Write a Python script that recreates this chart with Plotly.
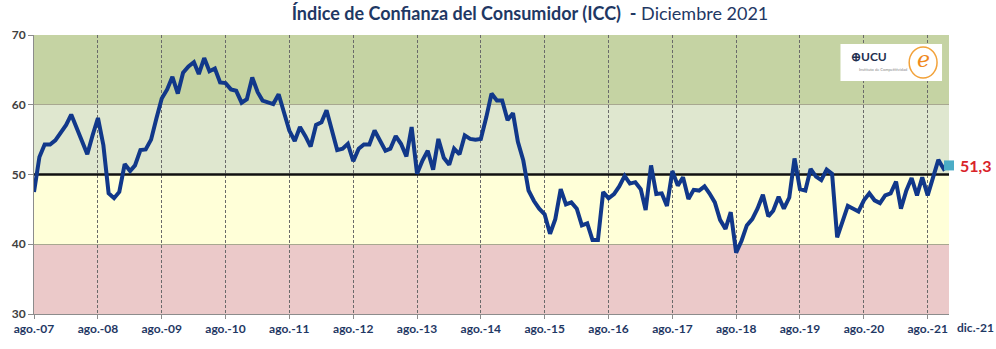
import pandas as pd
import plotly.graph_objects as go

# Monthly ICC values, Aug-2007 .. Dec-2021
months = pd.date_range("2007-08-01", "2021-12-01", freq="MS")
icc_values = [
    47.5, 52.5, 54.3, 54.3, 54.9, 56.1, 57.1, 58.6, 56.6, 54.7, 52.9, 55.6,   # ago-07..jul-08
    58.1, 54.2, 47.3, 46.6, 47.5, 51.5, 50.5, 51.3, 53.5, 53.6, 55.0, 58.0,   # ago-08..jul-09
    60.9, 62.2, 64.0, 61.6, 64.6, 65.5, 66.1, 64.4, 66.7, 64.8, 65.2, 63.2,   # ago-09..jul-10
    63.1, 62.2, 62.0, 60.3, 60.8, 63.9, 61.8, 60.6, 60.3, 60.1, 61.5, 59.0,   # ago-10..jul-11
    56.3, 54.8, 56.8, 55.5, 54.0, 57.1, 57.5, 59.2, 56.1, 53.5, 53.7, 54.4,   # ago-11..jul-12
    51.9, 53.7, 54.3, 54.3, 56.3, 54.9, 53.4, 53.7, 55.5, 54.4, 52.6, 56.8,   # ago-12..jul-13
    50.1, 52.0, 53.4, 50.7, 55.1, 52.4, 51.4, 53.7, 52.9, 55.6, 55.1, 55.0,   # ago-13..jul-14
    55.1, 58.2, 61.6, 60.6, 60.6, 57.8, 58.8, 54.7, 52.0, 47.7, 46.2, 45.1,   # ago-14..jul-15
    44.3, 41.5, 43.6, 47.9, 45.7, 46.0, 45.1, 42.7, 43.0, 40.6, 40.6, 47.5,   # ago-15..jul-16
    46.6, 47.2, 48.3, 49.8, 48.7, 48.9, 47.9, 44.9, 51.3, 47.2, 47.3, 45.5,   # ago-16..jul-17
    50.5, 48.4, 49.6, 46.5, 47.8, 47.7, 48.3, 47.3, 46.0, 43.5, 42.2, 44.6,   # ago-17..jul-18
    38.8, 40.5, 42.7, 43.6, 45.1, 47.1, 44.0, 44.8, 46.8, 45.1, 46.7, 52.3,   # ago-18..jul-19
    47.9, 47.7, 50.8, 49.7, 49.2, 50.7, 50.1, 41.0, 43.1, 45.5, 45.1, 44.7,   # ago-19..jul-20
    46.3, 47.3, 46.3, 45.9, 47.0, 47.3, 49.0, 45.1, 47.7, 49.5, 47.0, 49.6,   # ago-20..jul-21
    47.0, 49.6, 52.1, 50.8, 51.3,                                             # ago-21..dic-21
]
tick_dates = pd.date_range("2007-08-01", "2021-08-01", freq="12MS")
tick_labels = ["ago.-07", "ago.-08", "ago.-09", "ago.-10", "ago.-11", "ago.-12", "ago.-13",
               "ago.-14", "ago.-15", "ago.-16", "ago.-17", "ago.-18", "ago.-19", "ago.-20",
               "ago.-21"]
last_label = "dic.-21"
last_value_text = "51,3"
bands = [(30, 40, "#EBC9C9"), (40, 50, "#FFFFD8"), (50, 60, "#DFE7CF"), (60, 70, "#C5D3A3")]
threshold = 50

fig = go.Figure()

for y0, y1, col in bands:
    fig.add_shape(type="rect", xref="paper", yref="y", x0=0, x1=1, y0=y0, y1=y1,
                  fillcolor=col, line_width=0, layer="below")

# neutral line at 50
fig.add_trace(go.Scatter(x=[months[0], months[-1]], y=[threshold, threshold], mode="lines",
                         line=dict(color="#111111", width=2.5), hoverinfo="skip",
                         showlegend=False, cliponaxis=False))

fig.add_trace(go.Scatter(x=months, y=icc_values, mode="lines",
                         line=dict(color="#11388A", width=4), showlegend=False))

fig.add_trace(go.Scatter(x=[months[-1]], y=[icc_values[-1]], mode="markers",
                         marker=dict(symbol="square", size=10, color="#4BACC6"),
                         showlegend=False, cliponaxis=False))

fig.update_layout(
    width=996, height=349,
    margin=dict(l=30, r=47, t=35, b=35),
    paper_bgcolor="white", plot_bgcolor="rgba(0,0,0,0)",
    font=dict(family="Lato, sans-serif"),
    title=dict(text="<b>Índice de Confianza del Consumidor (ICC)  -</b> Diciembre 2021",
               x=530 / 996, xref="container", xanchor="center",
               y=1 - 14 / 349, yref="container", yanchor="middle",
               font=dict(size=18, color="#1F3864", family="Lato, sans-serif")),
    xaxis=dict(range=[months[0], months[-1]], tickmode="array", tickvals=tick_dates,
               ticktext=tick_labels, showgrid=True, gridcolor="#6A6A6A", griddash="3px,2px",
               gridwidth=0.8, showline=True, linecolor="#8C8C8C", ticks="outside",
               ticklen=4, tickcolor="#8C8C8C",
               tickfont=dict(size=12, color="#1F3864", family="Lato, sans-serif", weight="bold"),
               zeroline=False),
    yaxis=dict(range=[30, 70], tickvals=[30, 40, 50, 60, 70], showgrid=True,
               gridcolor="#A8A890", gridwidth=1, showline=True, linecolor="#8C8C8C",
               ticks="outside", ticklen=5, tickcolor="#8C8C8C",
               tickfont=dict(size=12, color="#404040", family="Lato, sans-serif", weight="bold"),
               zeroline=False),
)

fig.add_annotation(xref="paper", yref="paper", x=(955 - 30) / 919, y=0, xanchor="left",
                   yanchor="top", yshift=-4, text=last_label, showarrow=False,
                   font=dict(size=12, color="#1F3864", family="Lato, sans-serif", weight="bold"))
fig.add_annotation(xref="paper", yref="y", x=(958 - 30) / 919, y=icc_values[-1],
                   xanchor="left", yanchor="middle", text="<b>" + last_value_text + "</b>",
                   showarrow=False, font=dict(size=16, color="#D9232A", family="Lato, sans-serif"))

# logo box
fig.add_shape(type="rect", xref="paper", yref="paper",
              x0=(840 - 30) / 919, x1=(942 - 30) / 919,
              y0=(314 - 81) / 279, y1=(314 - 44) / 279,
              fillcolor="white", line_width=0, layer="above")
fig.add_annotation(xref="paper", yref="paper", x=(849 - 30) / 919, y=(314 - 56) / 279,
                   xanchor="left", yanchor="middle", text="<b>⊕UCU</b>", showarrow=False,
                   font=dict(size=12, color="#1F3050"))
fig.add_annotation(xref="paper", yref="paper", x=(857 - 30) / 919, y=(314 - 69) / 279,
                   xanchor="left", yanchor="middle", text="Instituto de Competitividad",
                   showarrow=False, font=dict(size=4, color="#888888"))
fig.add_shape(type="circle", xref="paper", yref="paper",
              x0=(909 - 30) / 919, x1=(937 - 30) / 919,
              y0=(314 - 78) / 279, y1=(314 - 47) / 279,
              line=dict(color="#F2A23A", width=1.5), fillcolor="white", layer="above")
fig.add_annotation(xref="paper", yref="paper", x=(923 - 30) / 919, y=(314 - 60) / 279,
                   xanchor="center", yanchor="middle", text="<i>e</i>", showarrow=False,
                   font=dict(size=22, color="#F08A1C", family="DejaVu Serif"))

fig.write_html("out.html")
